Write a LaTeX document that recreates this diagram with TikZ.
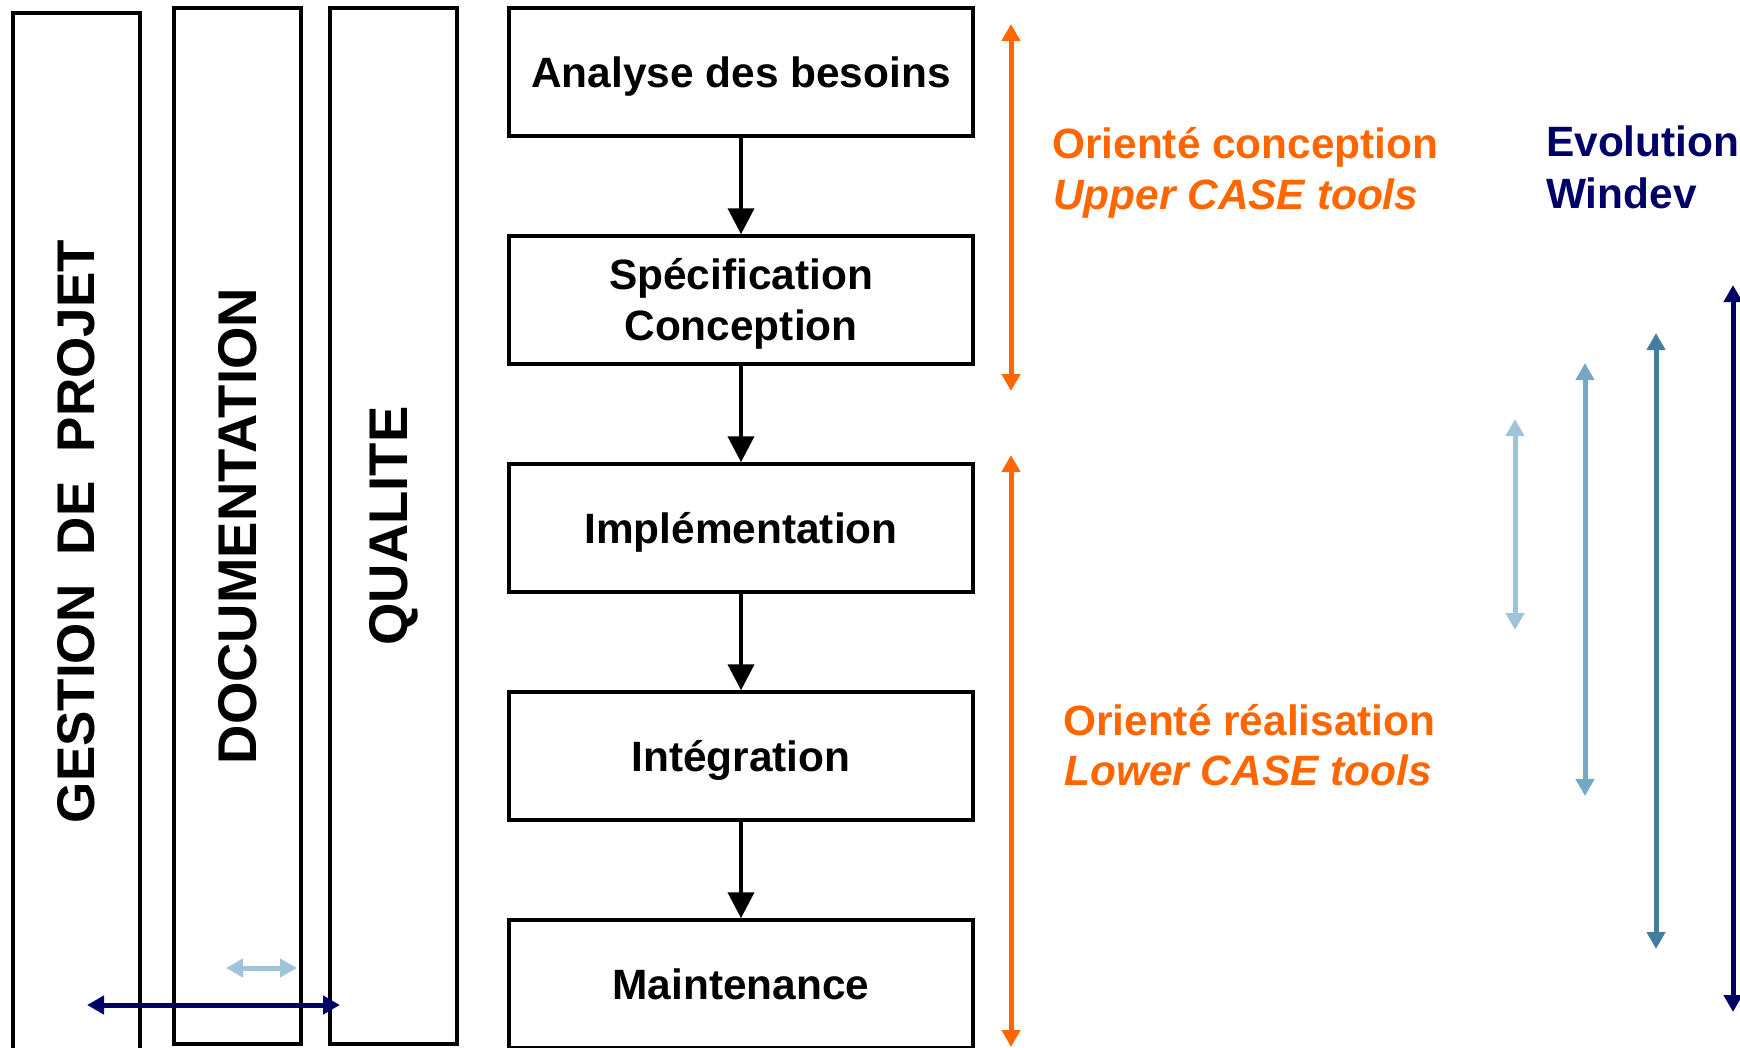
\documentclass[tikz,border=0pt]{standalone}
\usepackage{fontspec}
\setmainfont{Liberation Sans}
\usetikzlibrary{arrows.meta}
\definecolor{orangeline}{HTML}{FF6600}
\definecolor{navyline}{HTML}{000066}
\definecolor{blueA}{HTML}{9FC4DA}
\definecolor{blueB}{HTML}{75A7C7}
\definecolor{blueC}{HTML}{437EA0}

\begin{document}
\begin{tikzpicture}[x=1pt,y=-1pt,
  phase/.style={draw=black, line width=3.5pt, minimum width=464pt, minimum height=128pt,
    inner sep=0pt, align=center, text height=30pt, text depth=0pt,
    font=\fontsize{42.4}{51}\selectfont\bfseries},
  band/.style={draw=black, line width=3.5pt, rotate=90, minimum height=127pt,
    inner sep=0pt, font=\fontsize{53}{60}\selectfont\bfseries},
  flow/.style={line width=4pt, -{Triangle[length=26pt,width=26pt]}},
  span/.style={line width=5pt, {Triangle[length=17pt,width=18pt]}-{Triangle[length=17pt,width=18pt]}},
  note/.style={anchor=base west, inner sep=0pt, font=\fontsize{42.4}{51}\selectfont\bfseries}
]
\useasboundingbox (0,0) rectangle (1740,1047);
\clip (0,0) rectangle (1740,1047);

% transversal activities
\node[band, minimum width=1037pt] (gestion) at (76.5,531.5) {GESTION\ \ DE\ \ PROJET};
\node[band, minimum width=1036pt, font=\fontsize{54.5}{60}\selectfont\bfseries] (doc) at (237.5,526) {DOCUMENTATION};
\node[band, minimum width=1036pt, font=\fontsize{54.5}{60}\selectfont\bfseries] (qual) at (393.5,526) {QUALITE};

% development phases
\node[phase] (p1) at (741,72)  {Analyse des besoins};
\node[phase, text height=81pt] (p2) at (741,300) {Spécification\\Conception};
\node[phase] (p3) at (741,528) {Implémentation};
\node[phase] (p4) at (741,756) {Intégration};
\node[phase] (p5) at (741,984) {Maintenance};

\draw[flow] (p1) -- (p2);
\draw[flow] (p2) -- (p3);
\draw[flow] (p3) -- (p4);
\draw[flow] (p4) -- (p5);

% scope of the CASE tools
\coordinate (up1) at (1011,24);
\coordinate (up2) at (1011,391);
\coordinate (lo1) at (1011,455);
\coordinate (lo2) at (1011,1047);
\draw[span, orangeline] (up1) -- (up2);
\draw[span, orangeline] (lo1) -- (lo2);

\node[note, orangeline] (conc1) at (1052,158.5) {Orienté conception};
\node[note, orangeline] (conc2) at (1053,209) {\itshape Upper CASE tools};
\node[note, orangeline] (real1) at (1063,735.5) {Orienté réalisation};
\node[note, orangeline] (real2) at (1064,785.5) {\itshape Lower CASE tools};

% Windev versions
\node[note, navyline] (evo1) at (1546,156) {Evolution};
\node[note, navyline] (evo2) at (1546,208) {Windev};

\coordinate (v1a) at (1515,419); \coordinate (v1b) at (1515,630);
\coordinate (v2a) at (1585,363); \coordinate (v2b) at (1585,796);
\coordinate (v3a) at (1656,333); \coordinate (v3b) at (1656,949);
\coordinate (v4a) at (1733,285); \coordinate (v4b) at (1733,1012);
\draw[span, blueA] (v1a) -- (v1b);
\draw[span, blueB] (v2a) -- (v2b);
\draw[span, blueC] (v3a) -- (v3b);
\draw[span, navyline] (v4a) -- (v4b);

% links between the activities
\coordinate (h1a) at (226,968); \coordinate (h1b) at (297,968);
\coordinate (h2a) at (87,1005); \coordinate (h2b) at (340,1005);
\draw[span, blueA] (h1a) -- (h1b);
\draw[span, navyline] (h2a) -- (h2b);
\end{tikzpicture}
\end{document}
